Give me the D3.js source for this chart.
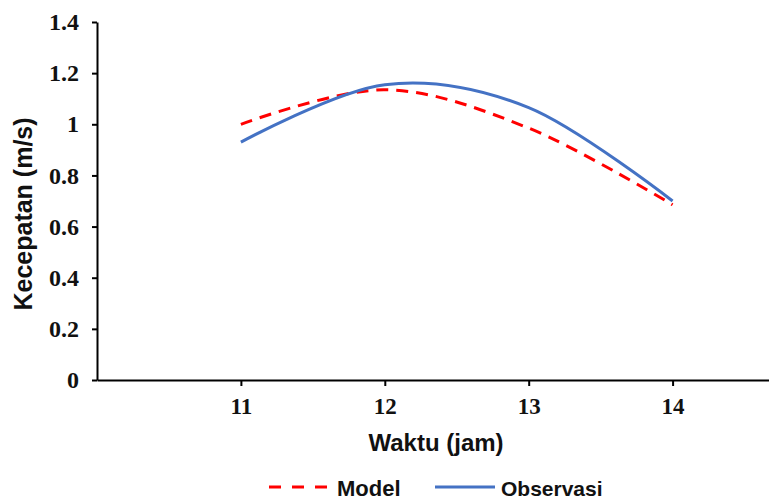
<!DOCTYPE html>
<html>
<head>
<meta charset="utf-8">
<script src="https://cdn.jsdelivr.net/npm/d3@7/dist/d3.min.js"></script>
<style>
  html, body { margin: 0; padding: 0; background: #fff; }
  svg { display: block; }
</style>
</head>
<body>
<svg id="chart" width="769" height="500"></svg>
<script>
// ---- data ----
const hours = [11, 12, 13, 14];
const model = [1.00, 1.135, 0.985, 0.685];
const observasi = [0.93, 1.155, 1.065, 0.70];
const xTicks = [11, 12, 13, 14];
const yTicks = [0, 0.2, 0.4, 0.6, 0.8, 1, 1.2, 1.4];
const seriesNames = ["Model", "Observasi"];
const xTitle = "Waktu (jam)";
const yTitle = "Kecepatan (m/s)";

// ---- layout ----
const svg = d3.select("#chart");
const x = d3.scaleLinear().domain([10, 14.67]).range([97, 769]);
const y = d3.scaleLinear().domain([0, 1.4]).range([380, 22]);

const serif = "'Liberation Serif', 'Times New Roman', serif";
const sans = "'Liberation Sans', Arial, sans-serif";

// y axis
const yAxis = svg.append("g").attr("transform", "translate(97,0)")
  .call(d3.axisLeft(y).tickValues(yTicks).tickSize(5).tickPadding(13)
        .tickFormat(d => String(+d.toFixed(1))).tickSizeOuter(0));
yAxis.select(".domain").attr("stroke", "#000").attr("stroke-width", 2);
yAxis.selectAll(".tick line").attr("stroke", "#000").attr("stroke-width", 2);
yAxis.selectAll(".tick text").attr("font-family", serif).attr("font-weight", "bold")
  .attr("font-size", 24).attr("fill", "#111");

// x axis
const xAxis = svg.append("g").attr("transform", "translate(0,380)")
  .call(d3.axisBottom(x).tickValues(xTicks).tickSize(6).tickPadding(12)
        .tickFormat(d => String(d)).tickSizeOuter(0));
xAxis.select(".domain").attr("stroke", "#000").attr("stroke-width", 2);
xAxis.selectAll(".tick line").attr("stroke", "#000").attr("stroke-width", 2);
xAxis.selectAll(".tick text").attr("font-family", serif).attr("font-weight", "bold")
  .attr("font-size", 23).attr("fill", "#111");

// lines
const line = d3.line().x((d, i) => x(hours[i])).y(d => y(d)).curve(d3.curveCardinal.tension(0));
svg.append("path").datum(model).attr("d", line)
  .attr("fill", "none").attr("stroke", "#FF0000").attr("stroke-width", 3)
  .attr("stroke-dasharray", "12,8");
svg.append("path").datum(observasi).attr("d", line)
  .attr("fill", "none").attr("stroke", "#4472C4").attr("stroke-width", 3);

// axis titles
svg.append("text").attr("x", 436).attr("y", 451).attr("text-anchor", "middle")
  .attr("font-family", sans).attr("font-weight", "bold").attr("font-size", 24)
  .attr("fill", "#111").text(xTitle);
svg.append("text").attr("transform", "translate(32,214) rotate(-90)")
  .attr("text-anchor", "middle")
  .attr("font-family", sans).attr("font-weight", "bold").attr("font-size", 25)
  .attr("fill", "#111").text(yTitle);

// legend
const leg = svg.append("g");
leg.append("line").attr("x1", 269).attr("x2", 329).attr("y1", 487).attr("y2", 487)
  .attr("stroke", "#FF0000").attr("stroke-width", 3).attr("stroke-dasharray", "12,11");
leg.append("text").attr("x", 337).attr("y", 496)
  .attr("font-family", sans).attr("font-weight", "bold").attr("font-size", 22)
  .attr("fill", "#111").text(seriesNames[0]);
leg.append("line").attr("x1", 435).attr("x2", 495).attr("y1", 487).attr("y2", 487)
  .attr("stroke", "#4472C4").attr("stroke-width", 3);
leg.append("text").attr("x", 501).attr("y", 496)
  .attr("font-family", sans).attr("font-weight", "bold").attr("font-size", 21)
  .attr("fill", "#111").text(seriesNames[1]);
</script>
</body>
</html>
